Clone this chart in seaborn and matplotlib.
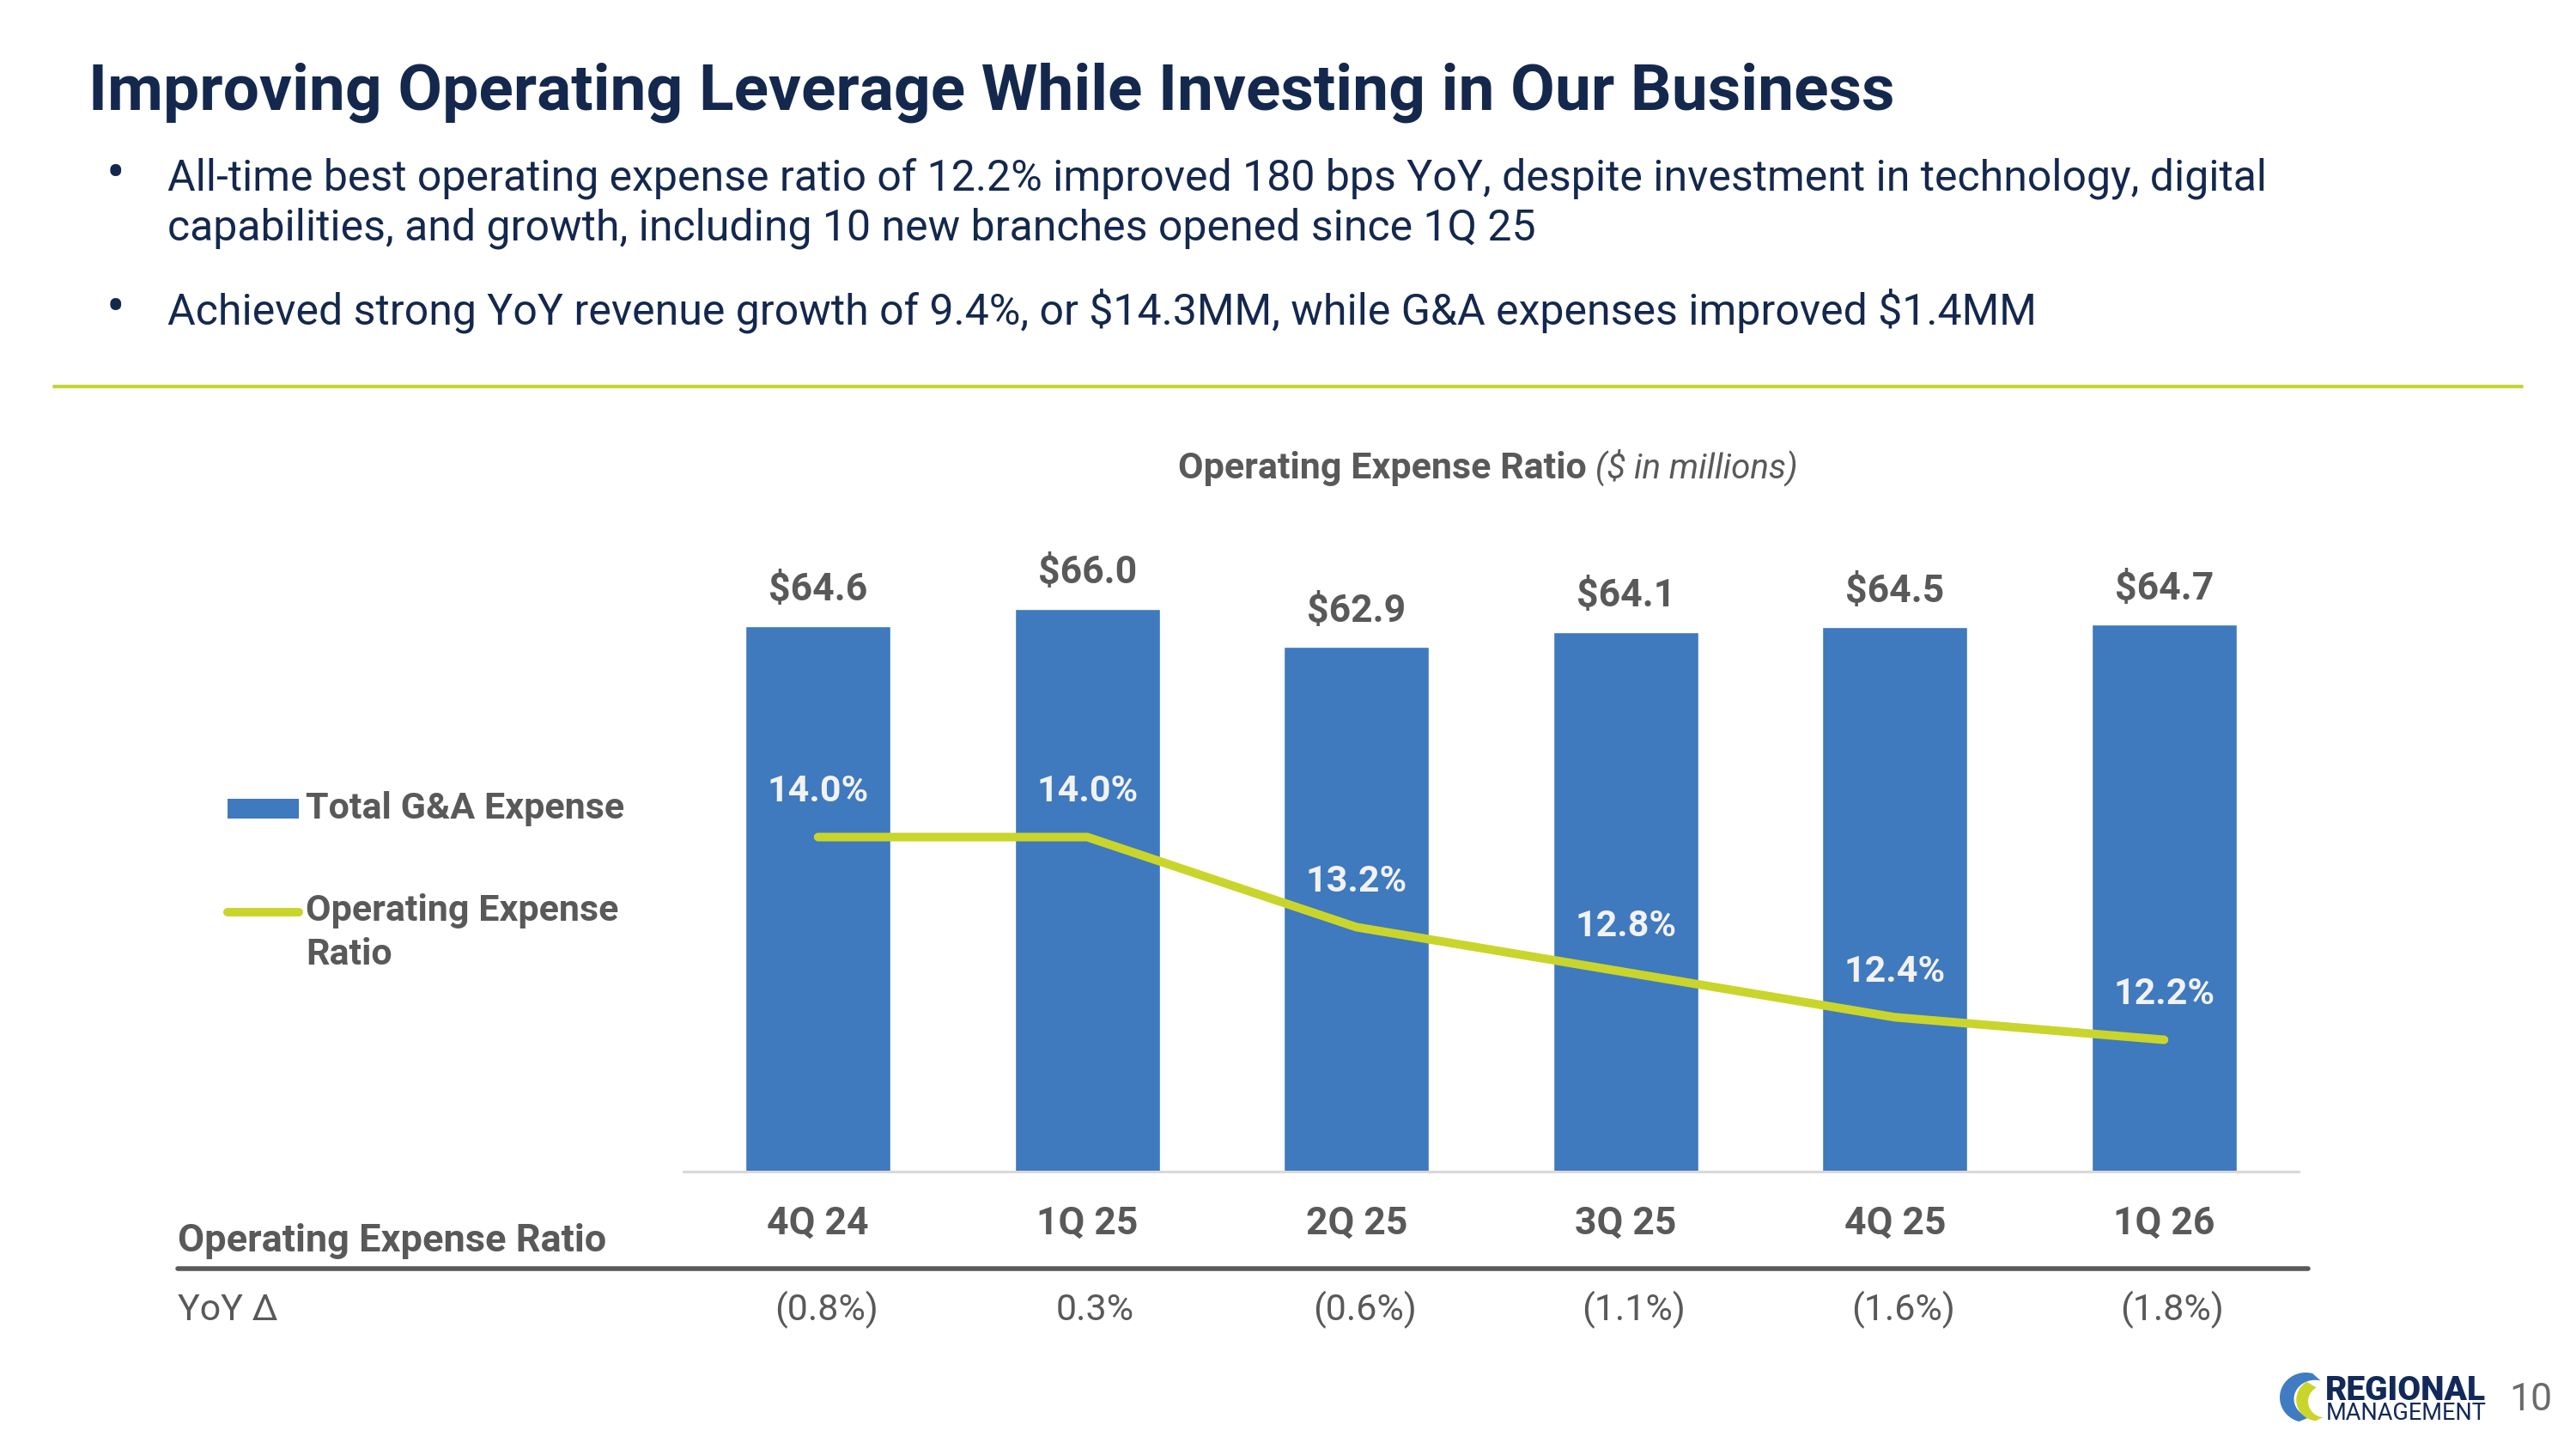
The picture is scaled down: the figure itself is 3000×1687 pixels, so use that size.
import numpy as np
import matplotlib.pyplot as plt
import matplotlib.transforms as mtransforms
from matplotlib.patches import Rectangle, Polygon
from matplotlib.lines import Line2D
import seaborn as sns

# data
quarters = ["4Q 24", "1Q 25", "2Q 25", "3Q 25", "4Q 25", "1Q 26"]
ga_expense = [64.6, 66.0, 62.9, 64.1, 64.5, 64.7]      # $ in millions
opex_ratio = [14.0, 14.0, 13.2, 12.8, 12.4, 12.2]      # %
yoy_change = ["(0.8%)", "0.3%", "(0.6%)", "(1.1%)", "(1.6%)", "(1.8%)"]

title = "Improving Operating Leverage While Investing in Our Business"
bullet_1 = ["All-time best operating expense ratio of 12.2% improved 180 bps YoY, despite investment in technology, digital",
            "capabilities, and growth, including 10 new branches opened since 1Q 25"]
bullet_2 = r"Achieved strong YoY revenue growth of 9.4%, or \$14.3MM, while G&A expenses improved \$1.4MM"

BLUE = "#3f79be"
LIME = "#cad52c"
NAVY = "#14284e"
GRAY = "#595959"

sns.set_style("white")
plt.rcParams['font.family'] = ['Roboto', 'DejaVu Sans']

W, H = 3000, 1687
fig = plt.figure(figsize=(W / 100, H / 100), dpi=100)


def fx(px):
    return px / W


def fy(py):
    return 1 - py / H


# ---- header ----
fig.text(fx(103), fy(128), title, fontsize=54, weight='bold', color=NAVY, va='baseline')
fig.text(fx(124), fy(222), "\u2022", fontsize=46, color=NAVY, va='baseline')
fig.text(fx(195), fy(222), bullet_1[0], fontsize=36, color=NAVY, va='baseline')
fig.text(fx(195), fy(280), bullet_1[1], fontsize=36, color=NAVY, va='baseline')
fig.text(fx(124), fy(378), "\u2022", fontsize=46, color=NAVY, va='baseline')
fig.text(fx(195), fy(378), bullet_2, fontsize=36, color=NAVY, va='baseline')
fig.add_artist(Line2D([fx(63), fx(2937)], [fy(450), fy(450)], transform=fig.transFigure,
                      color="#c4d42f", lw=3))

# ---- chart ----
ax = fig.add_axes([fx(796), fy(1364), fx(2677) - fx(796), (1364 - 631) / H])
x = np.arange(len(quarters))
sns.barplot(x=x, y=ga_expense, color=BLUE, saturation=1, width=0.54, ax=ax)
ax.set_xlim(-0.5, 5.5)
ax.set_ylim(20.5, 71.4)
ax.set_xticks(x)
ax.set_xticklabels(quarters, fontsize=32, weight='bold', color=GRAY)
ax.tick_params(axis='x', length=0, pad=29)
ax.set_yticks([])
ax.set_xlabel("")
ax.set_ylabel("")
for s in ["top", "left", "right"]:
    ax.spines[s].set_visible(False)
ax.spines["bottom"].set_color("#d9d9d9")
ax.spines["bottom"].set_linewidth(2.2)

for i, v in enumerate(ga_expense):
    ax.annotate(f"${v:.1f}", (i, v), xytext=(0, 21.5), textcoords='offset points',
                ha='center', va='baseline', fontsize=32, weight='bold', color=GRAY)

ax2 = ax.twinx()
sns.lineplot(x=x, y=opex_ratio, ax=ax2, color=LIME, lw=7.2, solid_capstyle='round')
ax2.set_ylim(11.03, 16.62)
ax2.set_xlim(-0.5, 5.5)
ax2.set_yticks([])
ax2.set_ylabel("")
for s in ax2.spines.values():
    s.set_visible(False)
for i, v in enumerate(opex_ratio):
    ax2.annotate(f"{v:.1f}%", (i, v), xytext=(0, 30), textcoords='offset points',
                 ha='center', va='baseline', fontsize=31, weight='bold', color="#f2f2f2")

# chart title
t1 = fig.text(fx(1372), fy(557), "Operating Expense Ratio", fontsize=31, weight='bold',
              color=GRAY, va='baseline')
ax.annotate(" ($ in millions)", xy=(1, 0), xycoords=t1, ha='left', va='bottom',
            fontsize=29, style='italic', color=GRAY, annotation_clip=False)

# ---- legend (left of plot) ----
fig.add_artist(Rectangle((fx(265), fy(953)), fx(348) - fx(265), (953 - 930) / H,
                         transform=fig.transFigure, color=BLUE, lw=0))
fig.text(fx(356), fy(953), "Total G&A Expense", fontsize=31, weight='bold', color=GRAY, va='baseline')
fig.add_artist(Line2D([fx(265), fx(348)], [fy(1062), fy(1062)], transform=fig.transFigure,
                      color=LIME, lw=7.2, solid_capstyle='round'))
fig.text(fx(356), fy(1072), "Operating Expense", fontsize=31, weight='bold', color=GRAY, va='baseline')
fig.text(fx(356), fy(1123), "Ratio", fontsize=31, weight='bold', color=GRAY, va='baseline')

# ---- table under the chart ----
fig.text(fx(207), fy(1457), "Operating Expense Ratio", fontsize=32.5, weight='bold', color=GRAY, va='baseline')
fig.add_artist(Line2D([fx(207), fx(2688)], [fy(1477), fy(1477)], transform=fig.transFigure,
                      color=GRAY, lw=4))
fig.text(fx(207), fy(1537), "YoY \u0394", fontsize=31, color=GRAY, va='baseline')
trans = mtransforms.blended_transform_factory(ax.transData, fig.transFigure)
for i, lab in enumerate(yoy_change):
    ax.text(i + 0.03, fy(1537), lab, transform=trans, ha='center', va='baseline',
            fontsize=31, color=GRAY, clip_on=False)

# ---- logo + page number ----
lax = fig.add_axes([fx(2655), fy(1656), fx(55), 58 / H])
lax.set_xlim(0, 1)
lax.set_ylim(0, 1)
lax.axis('off')
t = np.linspace(np.radians(75), np.radians(255), 60)
outer = np.c_[0.55 + 0.55 * np.cos(t), 0.5 + 0.5 * np.sin(t)]
inner = np.c_[0.75 + 0.45 * np.cos(t[::-1]), 0.47 + 0.38 * np.sin(t[::-1])]
lax.add_patch(Polygon(np.vstack([outer, inner]), closed=True, color="#3f7cc4", lw=0))
t2 = np.linspace(np.radians(120), np.radians(265), 60)
outer2 = np.c_[0.8 + 0.45 * np.cos(t2), 0.45 + 0.42 * np.sin(t2)]
inner2 = np.c_[0.95 + 0.35 * np.cos(t2[::-1]), 0.42 + 0.32 * np.sin(t2[::-1])]
lax.add_patch(Polygon(np.vstack([outer2, inner2]), closed=True, color=LIME, lw=0))

fig.text(fx(2708), fy(1630), "REGIONAL", fontsize=28, weight='heavy', color="#12295a", va='baseline')
fig.text(fx(2709), fy(1653), "MANAGEMENT", fontsize=19.5, color="#12295a", va='baseline')
fig.text(fx(2922), fy(1642), "10", fontsize=32, color="#6b6b6b", va='baseline')

fig.savefig("out.png", dpi=100)
